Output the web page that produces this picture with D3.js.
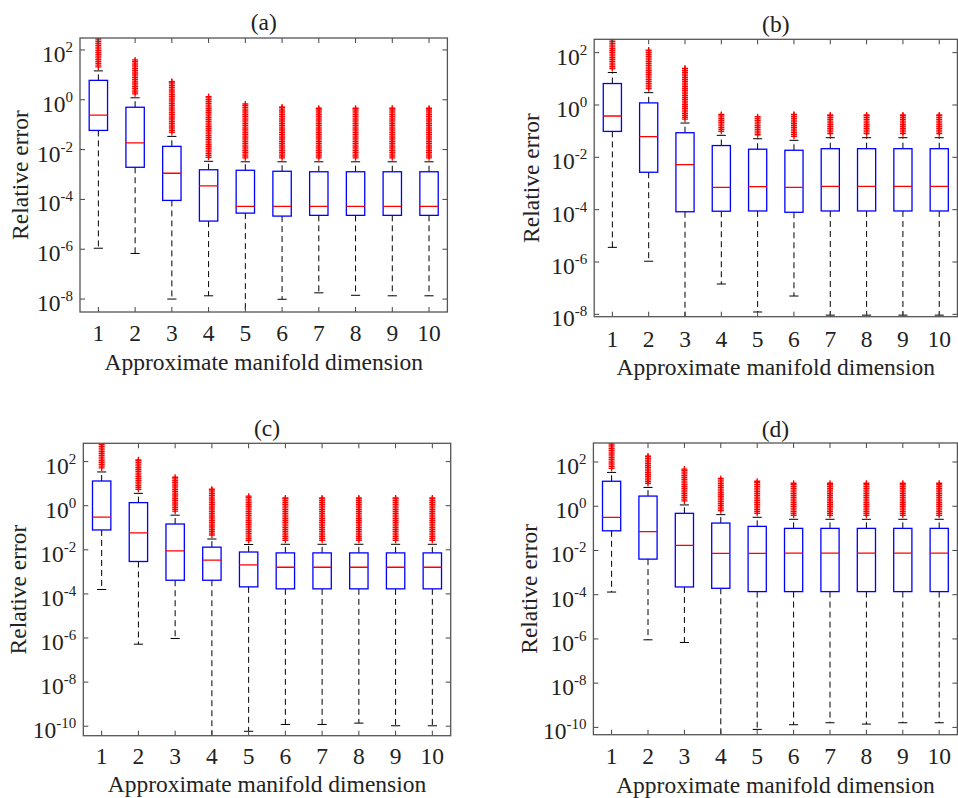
<!DOCTYPE html>
<html lang="en">
<head>
    <meta charset="UTF-8">
    <title>Relative error vs approximate manifold dimension</title>
    <script src="https://d3js.org/d3.v7.min.js"></script>
    <style>
        body {
            margin: 0;
            background: #fff;
        }

        svg text {
            font-family: "Liberation Serif", "Times New Roman", serif;
            fill: #222;
        }

        .frame {
            fill: none;
            stroke: #555;
            stroke-width: 1.3px;
        }

        .tick {
            stroke: #444;
            stroke-width: 1px;
        }
    </style>
</head>
<body>

<div id="chart"></div>

<script>
    // categories: approximate manifold dimension
    const dims = [1, 2, 3, 4, 5, 6, 7, 8, 9, 10];

    // values are log10(relative error)
    // panel (a)
    const aLow    = [-5.96, -6.17, -8.00, -7.87, -8.60, -8.01, -7.75, -7.85, -7.87, -7.87];
    const aQ1     = [-1.23, -2.71, -4.04, -4.87, -4.55, -4.67, -4.64, -4.64, -4.64, -4.64];
    const aMedian = [-0.62, -1.73, -2.95, -3.46, -4.28, -4.28, -4.28, -4.28, -4.28, -4.28];
    const aQ3     = [ 0.78, -0.30, -1.87, -2.81, -2.83, -2.87, -2.89, -2.89, -2.89, -2.89];
    const aHigh   = [ 1.16,  0.08, -1.47, -2.47, -2.49, -2.49, -2.49, -2.49, -2.49, -2.49];
    const aOutMax = [ 2.60,  1.60,  0.73,  0.13, -0.17, -0.30, -0.34, -0.34, -0.34, -0.34];

    // panel (b)
    const bLow    = [-5.44, -5.97, -8.20, -6.84, -7.91, -7.30, -8.03, -8.03, -8.03, -8.03];
    const bQ1     = [-1.01, -2.57, -4.08, -4.06, -4.05, -4.10, -4.05, -4.05, -4.05, -4.05];
    const bMedian = [-0.42, -1.21, -2.28, -3.15, -3.12, -3.15, -3.11, -3.11, -3.11, -3.11];
    const bQ3     = [ 0.82,  0.08, -1.06, -1.55, -1.69, -1.73, -1.67, -1.67, -1.67, -1.67];
    const bHigh   = [ 1.24,  0.47, -0.69, -1.16, -1.29, -1.35, -1.25, -1.25, -1.25, -1.25];
    const bOutMax = [ 2.60,  2.10,  1.40, -0.36, -0.45, -0.36, -0.38, -0.38, -0.38, -0.38];

    // panel (c)
    const cLow    = [-3.80, -6.28, -6.02, -10.50, -10.23, -9.92, -9.92, -9.86, -9.98, -9.98];
    const cQ1     = [-1.10, -2.53, -3.38, -3.38, -3.68, -3.77, -3.77, -3.77, -3.77, -3.77];
    const cMedian = [-0.52, -1.23, -2.05, -2.47, -2.68, -2.79, -2.79, -2.79, -2.79, -2.79];
    const cQ3     = [ 1.12,  0.14, -0.83, -1.88, -2.10, -2.14, -2.14, -2.14, -2.14, -2.14];
    const cHigh   = [ 1.53,  0.56, -0.43, -1.51, -1.76, -1.75, -1.75, -1.75, -1.75, -1.75];
    const cOutMax = [ 2.90,  2.08,  1.29,  0.75,  0.43,  0.35,  0.35,  0.35,  0.35,  0.35];

    // panel (d)
    const dLow    = [-3.88, -6.04, -6.16, -10.40, -10.09, -9.88, -9.79, -9.85, -9.79, -9.79];
    const dQ1     = [-1.11, -2.39, -3.65, -3.71, -3.86, -3.86, -3.86, -3.86, -3.86, -3.86];
    const dMedian = [-0.50, -1.15, -1.77, -2.13, -2.13, -2.12, -2.12, -2.12, -2.12, -2.12];
    const dQ3     = [ 1.13,  0.46, -0.32, -0.76, -0.91, -1.00, -1.00, -1.00, -1.00, -1.00];
    const dHigh   = [ 1.53,  0.85,  0.06, -0.38, -0.50, -0.59, -0.59, -0.59, -0.59, -0.59];
    const dOutMax = [ 2.90,  2.26,  1.68,  1.26,  1.13,  1.04,  1.04,  1.04,  1.04,  1.04];

    const ticksAB = [-8, -6, -4, -2, 0, 2];
    const ticksCD = [-10, -8, -6, -4, -2, 0, 2];

    const xLabel = "Approximate manifold dimension";
    const yLabel = "Relative error";

    function series(lo, q1, med, q3, hi, out) {
        return dims.map((d, i) => ({
            dim: d, lo: lo[i], q1: q1[i], med: med[i], q3: q3[i], hi: hi[i], out: out[i]
        }));
    }

    // panel placement (pixels) and y extent (log10)
    const panels = [
        {title: "(a)", x0: 80, x1: 447.4, y0: 38, y1: 312, eMin: -8.52, eMax: 2.48, ticks: ticksAB,
         titleDy: -16, tickDy: 21, labelDy: 50, yLabelDx: -60,
         data: series(aLow, aQ1, aMedian, aQ3, aHigh, aOutMax)},
        {title: "(b)", x0: 594.2, x1: 957.4, y0: 39.3, y1: 316.7, eMin: -8.09, eMax: 2.51, ticks: ticksAB,
         titleDy: -16, tickDy: 22, labelDy: 50, yLabelDx: -63,
         data: series(bLow, bQ1, bMedian, bQ3, bHigh, bOutMax)},
        {title: "(c)", x0: 83.3, x1: 450.7, y0: 443.3, y1: 735.7, eMin: -10.43, eMax: 2.83, ticks: ticksCD,
         titleDy: -16, tickDy: 20, labelDy: 48, yLabelDx: -66,
         data: series(cLow, cQ1, cMedian, cQ3, cHigh, cOutMax)},
        {title: "(d)", x0: 593.4, x1: 957.4, y0: 443, y1: 734.7, eMin: -10.33, eMax: 2.86, ticks: ticksCD,
         titleDy: -14, tickDy: 21, labelDy: 50, yLabelDx: -65,
         data: series(dLow, dQ1, dMedian, dQ3, dHigh, dOutMax)}
    ];

    const fontSize = "23.5px";

    const svg = d3.select("#chart").append("svg")
        .attr("width", 958)
        .attr("height", 798);

    const defs = svg.append("defs");

    panels.forEach((p, pi) => {
        const x = d3.scaleLinear().domain([0.5, 10.5]).range([p.x0, p.x1]);
        const y = d3.scaleLog().domain([10 ** p.eMin, 10 ** p.eMax]).range([p.y1, p.y0]);
        const yv = e => y(10 ** e);
        const step = x(2) - x(1);
        const boxW = step * 0.5;
        const capW = step * 0.25;

        defs.append("clipPath").attr("id", "clip" + pi)
            .append("rect")
            .attr("x", p.x0).attr("y", p.y0)
            .attr("width", p.x1 - p.x0).attr("height", p.y1 - p.y0);

        const g = svg.append("g");
        const plot = g.append("g").attr("clip-path", `url(#clip${pi})`);

        const box = plot.selectAll(".box")
            .data(p.data)
            .enter().append("g")
            .attr("class", "box");

        // outliers: dense column of + markers from upper whisker to max
        box.each(function(d) {
            const cx = x(d.dim);
            const top = yv(d.out);
            const bottom = yv(d.hi) - 4;
            const marks = [];
            for (let py = bottom; py >= top; py -= 1.8) marks.push(py);
            marks.push(top);
            d3.select(this).selectAll(".out")
                .data(marks)
                .enter().append("path")
                .attr("d", py => `M${cx - 3},${py}H${cx + 3}M${cx},${py - 3}V${py + 3}`)
                .attr("stroke", "#ff0000")
                .attr("stroke-width", 1.3)
                .attr("fill", "none");
        });

        // whiskers
        box.append("line")
            .attr("x1", d => x(d.dim)).attr("x2", d => x(d.dim))
            .attr("y1", d => yv(d.q1)).attr("y2", d => yv(d.lo))
            .attr("stroke", "#000").attr("stroke-width", 1)
            .attr("stroke-dasharray", "6,4");
        box.append("line")
            .attr("x1", d => x(d.dim)).attr("x2", d => x(d.dim))
            .attr("y1", d => yv(d.q3)).attr("y2", d => yv(d.hi))
            .attr("stroke", "#000").attr("stroke-width", 1)
            .attr("stroke-dasharray", "6,4");
        box.append("line")
            .attr("x1", d => x(d.dim) - capW / 2).attr("x2", d => x(d.dim) + capW / 2)
            .attr("y1", d => yv(d.lo)).attr("y2", d => yv(d.lo))
            .attr("stroke", "#000").attr("stroke-width", 1);
        box.append("line")
            .attr("x1", d => x(d.dim) - capW / 2).attr("x2", d => x(d.dim) + capW / 2)
            .attr("y1", d => yv(d.hi)).attr("y2", d => yv(d.hi))
            .attr("stroke", "#000").attr("stroke-width", 1);

        // boxes
        box.append("rect")
            .attr("x", d => x(d.dim) - boxW / 2)
            .attr("width", boxW)
            .attr("y", d => yv(d.q3))
            .attr("height", d => yv(d.q1) - yv(d.q3))
            .attr("fill", "none")
            .attr("stroke", "#0000ff")
            .attr("stroke-width", 1.3);

        // medians
        box.append("line")
            .attr("x1", d => x(d.dim) - boxW / 2).attr("x2", d => x(d.dim) + boxW / 2)
            .attr("y1", d => yv(d.med)).attr("y2", d => yv(d.med))
            .attr("stroke", "#ff0000").attr("stroke-width", 1.3);

        // tick marks, inside, on all four sides
        const tl = 5;
        p.ticks.forEach(e => {
            g.append("line").attr("class", "tick")
                .attr("x1", p.x0).attr("x2", p.x0 + tl).attr("y1", yv(e)).attr("y2", yv(e));
            g.append("line").attr("class", "tick")
                .attr("x1", p.x1).attr("x2", p.x1 - tl).attr("y1", yv(e)).attr("y2", yv(e));
        });
        dims.forEach(dm => {
            g.append("line").attr("class", "tick")
                .attr("x1", x(dm)).attr("x2", x(dm)).attr("y1", p.y1).attr("y2", p.y1 - tl);
            g.append("line").attr("class", "tick")
                .attr("x1", x(dm)).attr("x2", x(dm)).attr("y1", p.y0).attr("y2", p.y0 + tl);
        });

        g.append("rect").attr("class", "frame")
            .attr("x", p.x0).attr("y", p.y0)
            .attr("width", p.x1 - p.x0).attr("height", p.y1 - p.y0);

        // y tick labels 10^e
        const yt = g.selectAll(".ylab")
            .data(p.ticks)
            .enter().append("text")
            .attr("text-anchor", "end")
            .attr("x", p.x0 - 7)
            .attr("y", e => yv(e) + 12)
            .style("font-size", fontSize);
        yt.append("tspan").text("10");
        yt.append("tspan")
            .attr("dy", -10)
            .style("font-size", "15px")
            .text(e => String(e));

        // x tick labels
        g.selectAll(".xlab")
            .data(dims)
            .enter().append("text")
            .attr("text-anchor", "middle")
            .attr("x", dm => x(dm))
            .attr("y", p.y1 + p.tickDy)
            .attr("dy", "0.35em")
            .style("font-size", fontSize)
            .text(dm => dm);

        g.append("text")
            .attr("text-anchor", "middle")
            .attr("x", (p.x0 + p.x1) / 2)
            .attr("y", p.y1 + p.labelDy)
            .attr("dy", "0.35em")
            .style("font-size", fontSize)
            .text(xLabel);

        g.append("text")
            .attr("text-anchor", "middle")
            .attr("transform", `translate(${p.x0 + p.yLabelDx},${(p.y0 + p.y1) / 2}) rotate(-90)`)
            .attr("dy", "0.35em")
            .style("font-size", fontSize)
            .text(yLabel);

        g.append("text")
            .attr("text-anchor", "middle")
            .attr("x", (p.x0 + p.x1) / 2)
            .attr("y", p.y0 + p.titleDy)
            .attr("dy", "0.35em")
            .style("font-size", fontSize)
            .text(p.title);
    });
</script>

</body>
</html>
